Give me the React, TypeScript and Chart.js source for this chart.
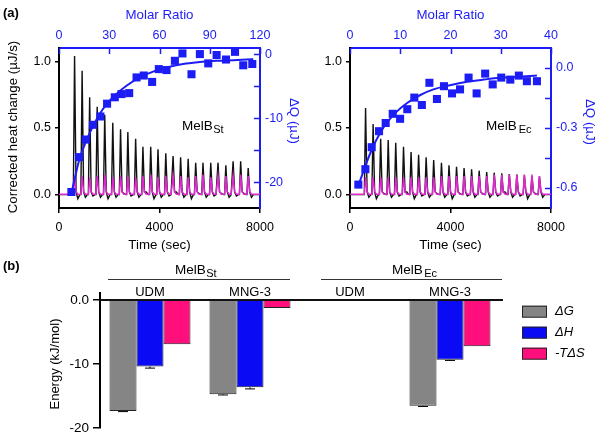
import React, { useEffect, useRef } from 'react';
import { Chart, registerables } from 'chart.js';
Chart.register(...registerables);

const FONT = '"Liberation Sans", Arial, Helvetica, sans-serif';
const BLUE = '#1c1cf5';
const MAGENTA = '#e028d0';
const BLACK = '#111111';

// ---------- Panel (a), left: MelB St ----------
const injTimesSt = [620, 920, 1220, 1520, 1820, 2140, 2450, 2740, 3050, 3340, 3650, 3940, 4250, 4540, 4840, 5140, 5440, 5730, 6040, 6330, 6640, 6930, 7230, 7530];
const heatPeaksSt = [1.04, 0.93, 0.73, 0.66, 0.6, 0.54, 0.49, 0.47, 0.42, 0.36, 0.36, 0.34, 0.31, 0.29, 0.28, 0.27, 0.24, 0.24, 0.24, 0.24, 0.22, 0.25, 0.25, 0.2];
const heatDipsSt = [-0.03, -0.02, -0.01, -0.02, -0.03, -0.02, 0.01, -0.01, -0.02, 0.02, -0.03, -0.02, -0.01, 0.02, -0.02, -0.03, 0.01, -0.02, -0.01, 0.01, -0.02, -0.01, 0.01, -0.02];
const refPeaksSt = [0.14, 0.14, 0.13, 0.14, 0.15, 0.13, 0.14, 0.14, 0.13, 0.14, 0.15, 0.13, 0.14, 0.14, 0.14, 0.13, 0.14, 0.15, 0.13, 0.14, 0.14, 0.14, 0.15, 0.14];
const molarRatioSt = [7.4, 12, 16, 20.3, 24.7, 28.7, 33.3, 37.3, 41.9, 46.3, 50.6, 55.6, 59.6, 64.2, 69.2, 73.7, 79.1, 84.1, 89.1, 94.1, 99.7, 105.1, 110, 115.4];
const deltaQSt = [-21.5, -16.05, -13.3, -11.0, -9.7, -7.7, -6.7, -6.2, -6.05, -3.6, -3.3, -4.3, -2.3, -2.45, -1.0, 0.15, -3.1, 0.05, -1.4, -0.1, -0.8, 0.4, -1.7, -1.5];
const fitMrSt = [7.4, 12.4, 16.3, 20.3, 24.3, 28.3, 33.3, 40.3, 48.2, 56.2, 64.2, 74.1, 84.1, 94.1, 104, 116];
const fitDqSt = [-21.7, -16.2, -13.5, -11.2, -9.3, -7.8, -6.4, -4.9, -3.6, -2.7, -2.05, -1.5, -1.2, -1.0, -0.9, -0.75];
const mrTicksSt = [0, 30, 60, 90, 120];
const dqLabelTicksSt = [-20, -10, 0];
const dqMarksSt = [-20, -15, -10, -5, 0];

// ---------- Panel (a), right: MelB Ec ----------
const injTimesEc = [620, 920, 1220, 1520, 1820, 2130, 2430, 2730, 3030, 3330, 3640, 3940, 4240, 4540, 4840, 5140, 5440, 5740, 6040, 6340, 6640, 6940, 7240, 7540];
const heatPeaksEc = [0.65, 0.53, 0.42, 0.41, 0.39, 0.36, 0.32, 0.3, 0.28, 0.26, 0.24, 0.22, 0.21, 0.2, 0.19, 0.18, 0.17, 0.165, 0.16, 0.155, 0.15, 0.145, 0.14, 0.135];
const heatDipsEc = [-0.02, -0.03, 0.01, -0.02, -0.01, 0.02, -0.03, -0.01, -0.02, 0.01, -0.02, -0.03, 0.01, -0.01, -0.02, 0.01, -0.02, -0.01, 0.02, -0.02, -0.01, -0.03, 0.01, -0.02];
const refPeaksEc = [0.13, 0.13, 0.13, 0.13, 0.13, 0.13, 0.13, 0.13, 0.13, 0.13, 0.14, 0.14, 0.14, 0.14, 0.14, 0.14, 0.14, 0.15, 0.15, 0.15, 0.15, 0.15, 0.15, 0.14];
const molarRatioEc = [1.66, 3.06, 4.32, 5.78, 7.1, 8.5, 9.97, 11.4, 12.8, 14.3, 15.8, 17.3, 18.7, 20.3, 21.9, 23.6, 25.2, 26.9, 28.4, 30.1, 31.9, 33.6, 35.2, 37.2];
const deltaQEc = [-0.583, -0.506, -0.396, -0.316, -0.275, -0.229, -0.254, -0.206, -0.148, -0.185, -0.074, -0.155, -0.091, -0.127, -0.107, -0.048, -0.127, -0.028, -0.082, -0.048, -0.058, -0.038, -0.066, -0.066];
const fitMrEc = [1.66, 3.3, 4.65, 6, 7.3, 9.3, 11.3, 14, 16.6, 19.9, 23.3, 26.6, 29.9, 33.2, 37.2];
const fitDqEc = [-0.588, -0.473, -0.39, -0.325, -0.275, -0.218, -0.176, -0.135, -0.107, -0.086, -0.069, -0.058, -0.049, -0.045, -0.038];
const mrTicksEc = [0, 10, 20, 30, 40];
const dqLabelTicksEc = [-0.6, -0.3, 0];
const dqMarksEc = [-0.6, -0.45, -0.3, -0.15, 0];

const timeTicks = [0, 4000, 8000];
const heatTicks = [0, 0.5, 1.0];

// ---------- Panel (b) ----------
const barGroups = ['UDM', 'MNG-3', 'UDM', 'MNG-3'];
const seriesNames = ['ΔG', 'ΔH', '-TΔS'];
const seriesColors = ['#858585', '#0a0af5', '#ff0f7b'];
const deltaG = [-17.35, -14.75, null, -16.55];
const deltaH = [-10.4, -13.65, null, -9.35];
const minusTdS = [-6.93, -1.23, null, -7.24];
const deltaGErr = [0.1, 0.1, 0, 0.1];
const deltaHErr = [0.25, 0.25, 0, 0.1];
const minusTdSErr = [0, 0, 0, 0];
const energyTicks = [-20, -10, 0];

type TextItem = {
  text: string; x: number; y: number; size?: number; color?: string;
  bold?: boolean; italic?: boolean; rotate?: number; align?: 'left' | 'center' | 'right';
  base?: CanvasTextBaseline; sub?: string; subSize?: number; subGap?: number; subDrop?: number;
};

function fontStr(size: number, bold?: boolean, italic?: boolean) {
  return `${italic ? 'italic ' : ''}${bold ? 'bold ' : ''}${size}px ${FONT}`;
}

function drawTexts(ctx: CanvasRenderingContext2D, items: TextItem[]) {
  items.forEach((it) => {
    const size = it.size || 13;
    const subSize = it.subSize || 10.5;
    ctx.save();
    ctx.translate(it.x, it.y);
    if (it.rotate) ctx.rotate(it.rotate);
    ctx.fillStyle = it.color || '#000';
    ctx.textBaseline = it.base || 'middle';
    ctx.textAlign = 'left';
    ctx.font = fontStr(size, it.bold, it.italic);
    const w = ctx.measureText(it.text).width;
    let sw = 0;
    const gap = it.subGap ?? 1;
    if (it.sub) {
      ctx.font = fontStr(subSize, it.bold, it.italic);
      sw = ctx.measureText(it.sub).width + gap;
      ctx.font = fontStr(size, it.bold, it.italic);
    }
    const total = w + sw;
    const x0 = it.align === 'left' ? 0 : it.align === 'right' ? -total : -total / 2;
    ctx.fillText(it.text, x0, 0);
    if (it.sub) {
      ctx.font = fontStr(subSize, it.bold, it.italic);
      ctx.fillText(it.sub, x0 + w + gap, it.subDrop ?? 3);
    }
    ctx.restore();
  });
}

function buildTrace(times: number[], peaks: number[], dips: number[], base: number) {
  const pts: { x: number; y: number }[] = [{ x: 0, y: base }];
  times.forEach((t, i) => {
    pts.push({ x: t - 50, y: base });
    pts.push({ x: t, y: peaks[i] });
    pts.push({ x: t + 60, y: base + 0.02 });
    pts.push({ x: t + 130, y: base + dips[i] });
    pts.push({ x: t + 210, y: base });
  });
  pts.push({ x: 8000, y: base });
  return pts;
}

interface ItcSpec {
  id: string;
  area: { left: number; right: number; top: number; bottom: number };
  mrMax: number; mrTicks: number[];
  dqMin: number; dqMax: number; dqLabelTicks: number[]; dqMarks: number[]; dqDecimals: number;
  times: number[]; peaks: number[]; dips: number[]; refPeaks: number[];
  mr: number[]; dq: number[]; fitMr: number[]; fitDq: number[];
  texts: TextItem[];
}

const tickFont = { family: FONT, size: 12.5 };

function itcConfig(s: ItcSpec): any {
  const a = s.area;
  return {
    type: 'scatter',
    data: {
      datasets: [
        {
          data: s.mr.map((x, i) => ({ x, y: s.dq[i] })),
          xAxisID: 'x2', yAxisID: 'y2', showLine: false,
          pointStyle: 'rect', pointRadius: 5.7, backgroundColor: BLUE, borderWidth: 0, order: 0,
        },
        {
          data: s.fitMr.map((x, i) => ({ x, y: s.fitDq[i] })),
          xAxisID: 'x2', yAxisID: 'y2', showLine: true, pointRadius: 0,
          borderColor: BLUE, borderWidth: 2, tension: 0.4, cubicInterpolationMode: 'monotone', order: 1,
        },
        {
          data: buildTrace(s.times, s.refPeaks, s.dips.map(() => 0), 0.003),
          xAxisID: 'x', yAxisID: 'y', showLine: true, pointRadius: 0,
          borderColor: MAGENTA, borderWidth: 1.5, order: 2,
        },
        {
          data: buildTrace(s.times, s.peaks, s.dips, 0),
          xAxisID: 'x', yAxisID: 'y', showLine: true, pointRadius: 0,
          borderColor: BLACK, borderWidth: 1.4, order: 3,
        },
      ],
    },
    options: {
      responsive: false, animation: false, devicePixelRatio: 1, events: [],
      layout: { padding: 0, autoPadding: false },
      plugins: { legend: { display: false }, tooltip: { enabled: false } },
      scales: {
        x: {
          type: 'linear', position: 'bottom', min: 0, max: 8000,
          afterBuildTicks: (sc: any) => { sc.ticks = timeTicks.map((v) => ({ value: v })); },
          ticks: { callback: (v: any) => String(v), font: tickFont, color: '#000', padding: 7, maxRotation: 0, autoSkip: false },
          grid: { display: true, drawOnChartArea: false, drawTicks: true, tickLength: 5, color: '#000', lineWidth: 1.5 },
          border: { display: true, color: '#000', width: 2 },
          afterFit: (sc: any) => { sc.height = 440 - a.bottom; },
        },
        x2: {
          type: 'linear', position: 'top', min: 0, max: s.mrMax,
          afterBuildTicks: (sc: any) => { sc.ticks = s.mrTicks.map((v) => ({ value: v })); },
          ticks: { callback: (v: any) => String(v), font: tickFont, color: BLUE, padding: 5, maxRotation: 0, autoSkip: false },
          grid: { display: false, drawTicks: false },
          border: { display: true, color: BLUE, width: 2 },
          afterFit: (sc: any) => { sc.height = a.top; },
        },
        y: {
          type: 'linear', position: 'left', min: -0.1, max: 1.1,
          afterBuildTicks: (sc: any) => { sc.ticks = heatTicks.map((v) => ({ value: v })); },
          ticks: { callback: (v: any) => Number(v).toFixed(1), font: tickFont, color: '#000', padding: 4 },
          grid: { display: true, drawOnChartArea: false, drawTicks: true, tickLength: 4, color: '#000', lineWidth: 1.5 },
          border: { display: true, color: '#000', width: 2 },
          afterFit: (sc: any) => { sc.width = a.left; },
        },
        y2: {
          type: 'linear', position: 'right', min: s.dqMin, max: s.dqMax,
          afterBuildTicks: (sc: any) => { sc.ticks = s.dqLabelTicks.map((v) => ({ value: v })); },
          ticks: { callback: (v: any) => Number(v).toFixed(s.dqDecimals), font: tickFont, color: BLUE, padding: 5 },
          grid: { display: false, drawTicks: false },
          border: { display: true, color: BLUE, width: 2 },
          afterFit: (sc: any) => { sc.width = 600 - a.right; },
        },
      },
    },
    plugins: [
      {
        id: 'innerTicks' + s.id,
        afterDraw(chart: any) {
          const ctx = chart.ctx as CanvasRenderingContext2D;
          const ca = chart.chartArea;
          const x2 = chart.scales.x2;
          const y2 = chart.scales.y2;
          ctx.save();
          ctx.strokeStyle = BLUE;
          ctx.lineWidth = 1.5;
          ctx.beginPath();
          s.mrTicks.forEach((v) => {
            const px = Math.round(x2.getPixelForValue(v)) + 0.5;
            ctx.moveTo(px, ca.top);
            ctx.lineTo(px, ca.top + 6);
          });
          s.dqMarks.forEach((v) => {
            const py = Math.round(y2.getPixelForValue(v)) + 0.5;
            ctx.moveTo(ca.right, py);
            ctx.lineTo(ca.right - 6, py);
          });
          ctx.stroke();
          ctx.restore();
        },
      },
      { id: 'texts' + s.id, afterDraw(chart: any) { drawTexts(chart.ctx, s.texts); } },
    ],
  };
}

const stSpec: ItcSpec = {
  id: 'st',
  area: { left: 59, right: 260, top: 48, bottom: 208 },
  mrMax: 120, mrTicks: mrTicksSt,
  dqMin: -24, dqMax: 1, dqLabelTicks: dqLabelTicksSt, dqMarks: dqMarksSt, dqDecimals: 0,
  times: injTimesSt, peaks: heatPeaksSt, dips: heatDipsSt, refPeaks: refPeaksSt,
  mr: molarRatioSt, dq: deltaQSt, fitMr: fitMrSt, fitDq: fitDqSt,
  texts: [
    { text: '(a)', x: 3, y: 13, bold: true, align: 'left', size: 13 },
    { text: 'Molar Ratio', x: 159.5, y: 15, color: BLUE, size: 13.3 },
    { text: 'Time (sec)', x: 159.5, y: 245, size: 13.3 },
    { text: 'Corrected heat change (µJ/s)', x: 13.5, y: 127, rotate: -Math.PI / 2, size: 13.3 },
    { text: 'ΔQ (µJ)', x: 294, y: 121, rotate: Math.PI / 2, color: BLUE, size: 13.3 },
    { text: 'MelB', x: 182, y: 130, base: 'alphabetic', align: 'left', size: 13.5, sub: 'St', subSize: 11, subGap: 0.5, subDrop: 3 },
  ],
};

const ecSpec: ItcSpec = {
  id: 'ec',
  area: { left: 350, right: 551, top: 48, bottom: 208 },
  mrMax: 40, mrTicks: mrTicksEc,
  dqMin: -0.7, dqMax: 0.1, dqLabelTicks: dqLabelTicksEc, dqMarks: dqMarksEc, dqDecimals: 1,
  times: injTimesEc, peaks: heatPeaksEc, dips: heatDipsEc, refPeaks: refPeaksEc,
  mr: molarRatioEc, dq: deltaQEc, fitMr: fitMrEc, fitDq: fitDqEc,
  texts: [
    { text: 'Molar Ratio', x: 450.5, y: 15, color: BLUE, size: 13.3 },
    { text: 'Time (sec)', x: 450.5, y: 245, size: 13.3 },
    { text: 'ΔQ (µJ)', x: 590, y: 122, rotate: Math.PI / 2, color: BLUE, size: 13.3 },
    { text: 'MelB', x: 486, y: 130, base: 'alphabetic', align: 'left', size: 13.5, sub: 'Ec', subSize: 11, subGap: 2, subDrop: 3 },
  ],
};

const barTexts: TextItem[] = [
  { text: '(b)', x: 3, y: 266, bold: true, align: 'left', size: 13 },
  { text: 'MelB', x: 175, y: 274, base: 'alphabetic', align: 'left', size: 13.5, sub: 'St', subSize: 11, subGap: 0.5, subDrop: 3 },
  { text: 'MelB', x: 392, y: 274, base: 'alphabetic', align: 'left', size: 13.5, sub: 'Ec', subSize: 11, subGap: 1.5, subDrop: 3 },
  { text: 'Energy (kJ/mol)', x: 55, y: 364, rotate: -Math.PI / 2, size: 13 },
];

function barConfig(): any {
  const values = [deltaG, deltaH, minusTdS];
  const errs = [deltaGErr, deltaHErr, minusTdSErr];
  return {
    type: 'bar',
    data: {
      labels: barGroups,
      datasets: values.map((v, i) => ({
        label: seriesNames[i],
        data: v,
        backgroundColor: seriesColors[i],
        borderColor: '#222',
        borderWidth: 1,
        categoryPercentage: 0.81,
        barPercentage: 1.0,
      })),
    },
    options: {
      responsive: false, animation: false, devicePixelRatio: 1, events: [],
      layout: { padding: { left: 0, top: 0, right: 100, bottom: 10 }, autoPadding: false },
      plugins: { legend: { display: false }, tooltip: { enabled: false } },
      scales: {
        x: {
          type: 'category', position: 'top', offset: true,
          ticks: { display: false },
          grid: { display: false, drawTicks: false },
          border: { display: false },
          afterFit: (sc: any) => { sc.height = 293; },
        },
        y: {
          type: 'linear', position: 'left', min: -20, max: 1.1,
          afterBuildTicks: (sc: any) => { sc.ticks = energyTicks.map((v) => ({ value: v })); },
          ticks: { callback: (v: any) => (v === 0 ? '0.0' : String(v)), font: { family: FONT, size: 13.5 }, color: '#000', padding: 4 },
          grid: { display: true, drawOnChartArea: false, drawTicks: true, tickLength: 7, color: '#000', lineWidth: 1.5 },
          border: { display: true, color: '#000', width: 2 },
          afterFit: (sc: any) => { sc.width = 100; },
        },
      },
    },
    plugins: [
      {
        id: 'barExtras',
        afterDatasetsDraw(chart: any) {
          const ctx = chart.ctx as CanvasRenderingContext2D;
          const ys = chart.scales.y;
          const ca = chart.chartArea;
          ctx.save();
          // error bars
          ctx.strokeStyle = '#000';
          ctx.lineWidth = 1;
          values.forEach((vals, i) => {
            const meta = chart.getDatasetMeta(i);
            meta.data.forEach((bar: any, j: number) => {
              const v = vals[j];
              const e = errs[i][j];
              if (v == null || !e) return;
              const yA = ys.getPixelForValue(v);
              const yB = ys.getPixelForValue(v - e);
              ctx.beginPath();
              ctx.moveTo(bar.x, yA);
              ctx.lineTo(bar.x, yB);
              ctx.moveTo(bar.x - 5, yB);
              ctx.lineTo(bar.x + 5, yB);
              ctx.stroke();
            });
          });
          // zero line
          const y0 = ys.getPixelForValue(0);
          ctx.lineWidth = 2;
          ctx.strokeStyle = '#111';
          ctx.beginPath();
          ctx.moveTo(ca.left, y0);
          ctx.lineTo(ca.right + 3, y0);
          ctx.stroke();
          ctx.restore();
        },
        afterDraw(chart: any) {
          const ctx = chart.ctx as CanvasRenderingContext2D;
          const xs = chart.scales.x;
          ctx.save();
          // category labels (detergents) above the zero line
          ctx.fillStyle = '#000';
          ctx.font = fontStr(13);
          ctx.textAlign = 'center';
          ctx.textBaseline = 'middle';
          chart.data.labels.forEach((lab: string, i: number) => {
            ctx.fillText(lab, xs.getPixelForValue(i), 292.5);
          });
          // group header lines
          ctx.strokeStyle = '#333';
          ctx.lineWidth = 1.2;
          ctx.beginPath();
          ctx.moveTo(108, 279.5);
          ctx.lineTo(290, 279.5);
          ctx.moveTo(321, 279.5);
          ctx.lineTo(502, 279.5);
          ctx.stroke();
          // legend
          chart.data.datasets.forEach((ds: any, i: number) => {
            const top = 305.7 + 21 * i;
            ctx.fillStyle = ds.backgroundColor;
            ctx.fillRect(522, top, 24.7, 11.6);
            ctx.strokeStyle = '#222';
            ctx.lineWidth = 1;
            ctx.strokeRect(522.5, top + 0.5, 24, 11);
            ctx.fillStyle = '#000';
            ctx.font = fontStr(13, false, true);
            ctx.textBaseline = 'middle';
            ctx.textAlign = 'left';
            ctx.fillText(ds.label, 555, top + 6);
          });
          ctx.restore();
          drawTexts(ctx, barTexts);
        },
      },
    ],
  };
}

export default function App() {
  const r1 = useRef<HTMLCanvasElement>(null);
  const r2 = useRef<HTMLCanvasElement>(null);
  const r3 = useRef<HTMLCanvasElement>(null);
  useEffect(() => {
    const charts = [
      new Chart(r1.current as HTMLCanvasElement, itcConfig(stSpec)),
      new Chart(r2.current as HTMLCanvasElement, itcConfig(ecSpec)),
      new Chart(r3.current as HTMLCanvasElement, barConfig()),
    ];
    return () => charts.forEach((c) => c.destroy());
  }, []);
  const cs: React.CSSProperties = { position: 'absolute', left: 0, top: 0, width: 600, height: 440 };
  return (
    <div style={{ position: 'fixed', left: 0, top: 0, width: 600, height: 440, background: '#fff' }}>
      <canvas ref={r1} width={600} height={440} style={cs} />
      <canvas ref={r2} width={600} height={440} style={cs} />
      <canvas ref={r3} width={600} height={440} style={cs} />
    </div>
  );
}
